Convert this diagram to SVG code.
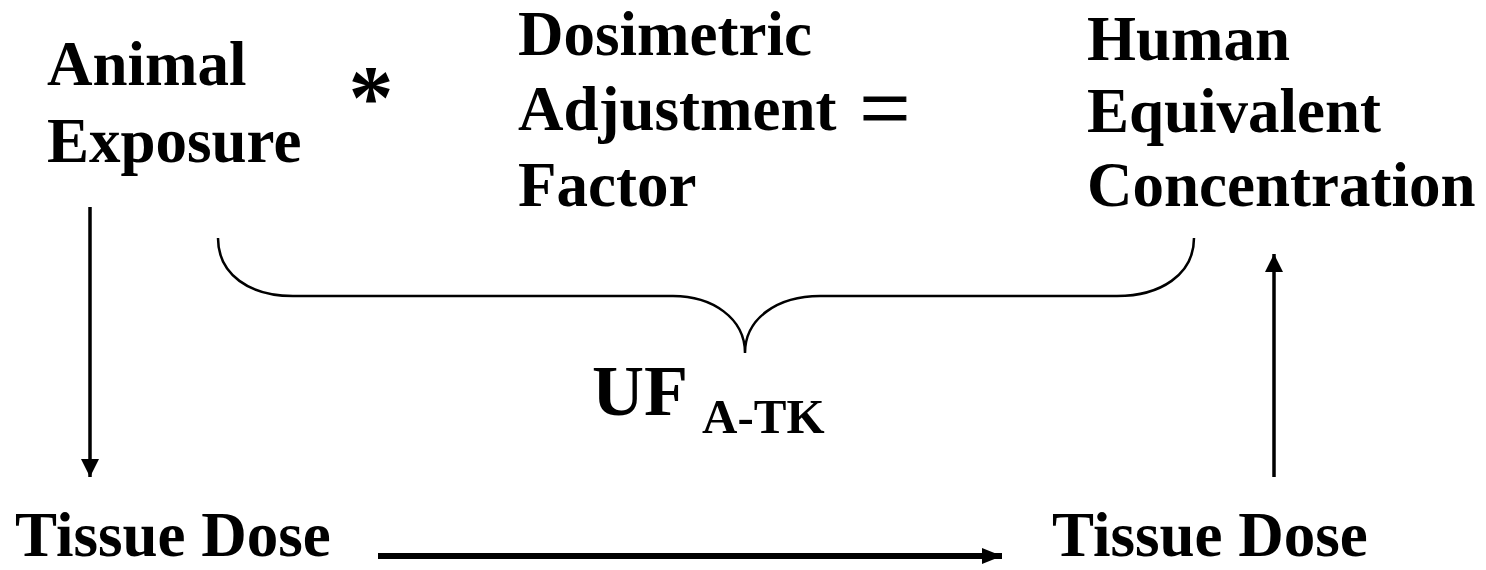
<svg xmlns="http://www.w3.org/2000/svg" width="1486" height="570" viewBox="0 0 1486 570">
<style>
.t{font-family:"Liberation Serif","Times New Roman",serif;font-weight:bold;font-size:63px;fill:#000}
.op{font-family:"Liberation Serif","Times New Roman",serif;fill:#000}
.ln{stroke:#000;fill:none}
</style>
<defs>
<marker id="ahv" viewBox="0 0 18 18" refX="18" refY="9" markerWidth="18" markerHeight="18" markerUnits="userSpaceOnUse" orient="auto">
<path d="M0,0 L18,9 L0,18 z" fill="#000"/>
</marker>
<marker id="ahh" viewBox="0 0 20 16" refX="20" refY="8" markerWidth="20" markerHeight="16" markerUnits="userSpaceOnUse" orient="auto">
<path d="M0,0 L20,8 L0,16 z" fill="#000"/>
</marker>
</defs>
<rect width="1486" height="570" fill="#fff"/>
<g id="animal-exposure"><text class="t" x="47" y="85">Animal</text><text class="t" x="47" y="162">Exposure</text></g>
<g id="times"><text class="op" x="371" y="128" font-size="90" font-weight="bold" text-anchor="middle">*</text></g>
<g id="daf"><text class="t" x="518" y="55">Dosimetric</text><text class="t" x="518" y="130">Adjustment</text><text class="t" x="518" y="206">Factor</text></g>
<g id="equals"><text class="op" x="885" y="139" font-size="90" text-anchor="middle" stroke="#000" stroke-width="1">=</text></g>
<g id="hec"><text class="t" x="1087" y="60">Human</text><text class="t" x="1087" y="132">Equivalent</text><text class="t" x="1087" y="206">Concentration</text></g>
<g id="uf"><text class="op" x="592" y="415" font-size="72" font-weight="bold">UF</text><text class="op" x="702" y="433" font-size="49" font-weight="bold">A-TK</text></g>
<g id="tissue-dose-animal"><text class="t" x="15" y="556">Tissue Dose</text></g>
<g id="tissue-dose-human"><text class="t" x="1052" y="556">Tissue Dose</text></g>
<g id="connectors">
<path class="ln" stroke-width="2.5" d="M218,238 C218,275 250,296 293,296 L673,296 C712,296 745,318 745,353 C745,318 778,296 820,296 L1117,296 C1160,296 1194,275 1194,238"/>
<line class="ln" x1="90" y1="207" x2="90" y2="477" stroke-width="3.5" marker-end="url(#ahv)"/>
<line class="ln" x1="1274" y1="477" x2="1274" y2="254" stroke-width="3.5" marker-end="url(#ahv)"/>
<line class="ln" x1="378" y1="556" x2="1002" y2="556" stroke-width="6" marker-end="url(#ahh)"/>
</g>
</svg>
